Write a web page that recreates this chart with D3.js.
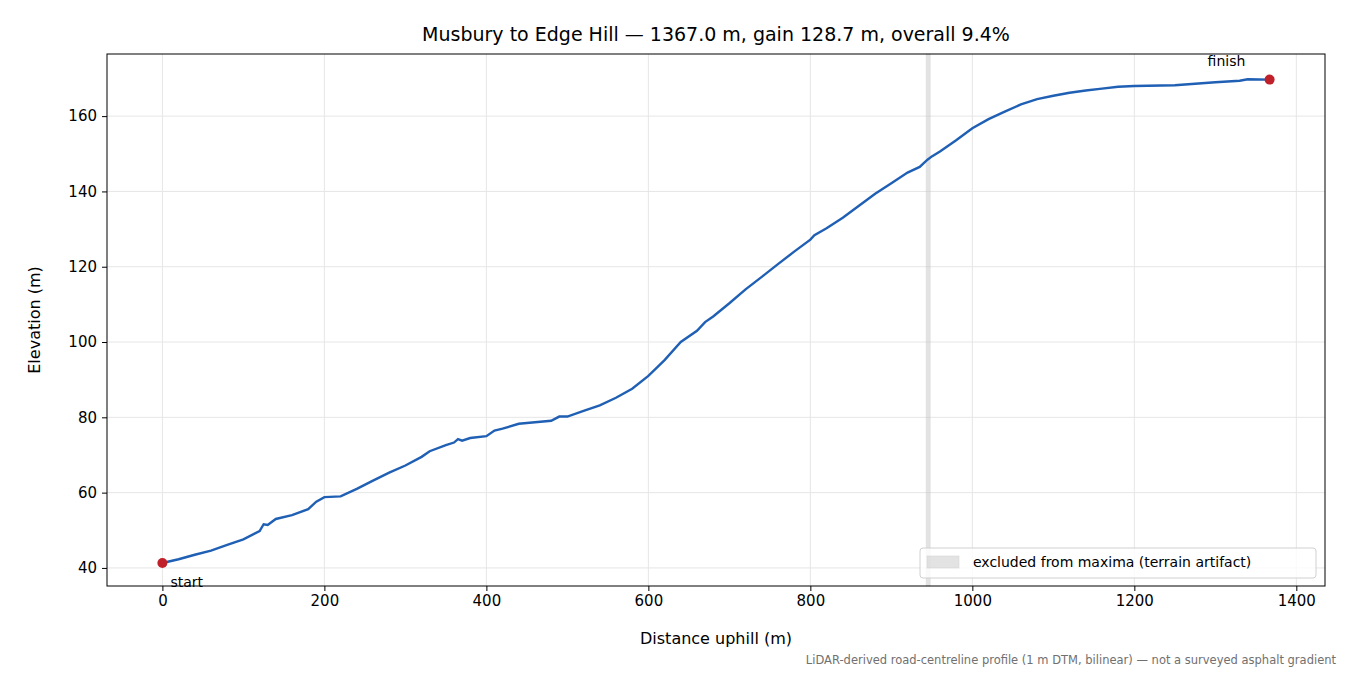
<!DOCTYPE html><html><head><meta charset="utf-8"><script src="https://cdn.jsdelivr.net/npm/d3@7"></script>
<style>body{margin:0;background:#fff}text{font-family:"DejaVu Sans",sans-serif}</style></head><body><svg id="c" width="1350" height="675"></svg>
<script>
const dist=[0,20,40,60,80,100,120,125,130,140,160,180,190,200,220,240,260,280,300,320,330,350,360,365,370,380,400,410,420,440,460,480,490,500,520,540,560,580,600,620,640,660,670,680,700,720,740,760,780,800,805,820,840,860,880,900,920,935,940,945,950,960,980,1000,1020,1040,1060,1080,1100,1120,1140,1160,1180,1200,1250,1300,1330,1340,1367];
const elev=[41.3,42.3,43.5,44.6,46.1,47.6,49.8,51.6,51.4,53,54,55.6,57.6,58.8,59,61,63.2,65.3,67.2,69.5,71,72.6,73.3,74.2,73.8,74.5,75,76.5,77,78.3,78.7,79.1,80.2,80.2,81.7,83.2,85.2,87.6,91,95.2,100,103,105.3,106.8,110.3,114,117.3,120.7,124,127.2,128.4,130.2,133,136.2,139.4,142.2,145,146.5,147.5,148.5,149.3,150.6,153.6,156.8,159.2,161.2,163.1,164.5,165.4,166.2,166.8,167.3,167.8,168,168.2,169,169.4,169.8,169.7];
const yTicks=[40,60,80,100,120,140,160], xTicks=[0,200,400,600,800,1000,1200,1400];
const band=[943,948];
const svg=d3.select("#c"),L=107,R=1325,T=54,B=586;
const x=d3.scaleLinear().domain([-68.4,1435.4]).range([L,R]);
const y=d3.scaleLinear().domain([35.2,176.5]).range([B,T]);
const g=svg.append("g");
xTicks.forEach(t=>g.append("line").attr("x1",x(t)).attr("x2",x(t)).attr("y1",T).attr("y2",B).attr("stroke","#e6e6e6"));
yTicks.forEach(t=>g.append("line").attr("x1",L).attr("x2",R).attr("y1",y(t)).attr("y2",y(t)).attr("stroke","#e6e6e6"));
g.append("rect").attr("x",x(band[0])).attr("width",x(band[1])-x(band[0])).attr("y",T).attr("height",B-T).attr("fill","#c8c8c8").attr("opacity",0.5).attr("stroke","#aaa").attr("stroke-opacity",0.4);
g.append("path").datum(dist.map((d,i)=>[d,elev[i]])).attr("d",d3.line().x(d=>x(d[0])).y(d=>y(d[1]))).attr("fill","none").attr("stroke","#1f5fb4").attr("stroke-width",2.4);
[[0,elev[0]],[1367,elev[elev.length-1]]].forEach(p=>g.append("circle").attr("cx",x(p[0])).attr("cy",y(p[1])).attr("r",5).attr("fill","#c0202a"));
g.append("text").attr("x",x(0)+8).attr("y",y(elev[0])+24).attr("font-size",14).text("start");
g.append("text").attr("x",x(1367)-62).attr("y",y(169.7)-14).attr("font-size",14).text("finish");
svg.append("rect").attr("x",L).attr("y",T).attr("width",R-L).attr("height",B-T).attr("fill","none").attr("stroke","#000");
svg.append("g").attr("transform",`translate(0,${B})`).call(d3.axisBottom(x).tickValues(xTicks).tickFormat(d3.format("d")).tickSize(5).tickPadding(4)).call(a=>{a.select(".domain").remove();a.selectAll("text").attr("font-size",15).attr("font-family","DejaVu Sans")});
svg.append("g").attr("transform",`translate(${L},0)`).call(d3.axisLeft(y).tickValues(yTicks).tickSize(5).tickPadding(5)).call(a=>{a.select(".domain").remove();a.selectAll("text").attr("font-size",15).attr("font-family","DejaVu Sans")});
svg.append("text").attr("x",716).attr("y",41).attr("text-anchor","middle").attr("font-size",19).text("Musbury to Edge Hill — 1367.0 m, gain 128.7 m, overall 9.4%");
svg.append("text").attr("x",716).attr("y",644).attr("text-anchor","middle").attr("font-size",16).text("Distance uphill (m)");
svg.append("text").attr("transform","translate(40,320) rotate(-90)").attr("text-anchor","middle").attr("font-size",16).text("Elevation (m)");
svg.append("text").attr("x",1336).attr("y",664).attr("text-anchor","end").attr("font-size",11.5).attr("fill","#707070").text("LiDAR-derived road-centreline profile (1 m DTM, bilinear) — not a surveyed asphalt gradient");
const lg=svg.append("g");
lg.append("rect").attr("x",920).attr("y",548).attr("width",396).attr("height",30).attr("rx",3).attr("fill","#fff").attr("fill-opacity",0.8).attr("stroke","#d0d0d0");
lg.append("rect").attr("x",927).attr("y",556).attr("width",32).attr("height",12).attr("fill","#c8c8c8").attr("opacity",0.5).attr("stroke","#aaa").attr("stroke-opacity",0.5);
lg.append("text").attr("x",973).attr("y",567).attr("font-size",14).text("excluded from maxima (terrain artifact)");
</script></body></html>
